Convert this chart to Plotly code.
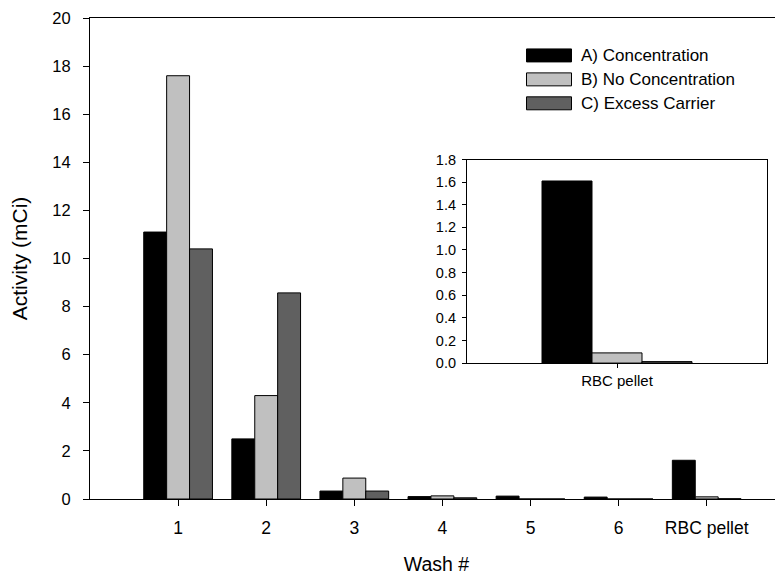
import plotly.graph_objects as go

# ---- data ----
wash_labels = ["1", "2", "3", "4", "5", "6", "RBC pellet"]
wash_pos = [1, 2, 3, 4, 5, 6, 7]
series_names = ["A) Concentration", "B) No Concentration", "C) Excess Carrier"]
conc = [11.1, 2.5, 0.33, 0.10, 0.12, 0.08, 1.61]
no_conc = [17.6, 4.3, 0.87, 0.13, 0.0, 0.0, 0.09]
excess = [10.4, 8.57, 0.33, 0.05, 0.0, 0.0, 0.01]
inset_cat = ["RBC pellet"]
inset_conc = [1.61]
inset_no_conc = [0.09]
inset_excess = [0.013]

colors = ["#000000", "#c0c0c0", "#606060"]
FONT = "Liberation Sans, Arial, sans-serif"

OFF = 8  # page body margin in the browser
W, H = 783 - OFF, 581 - OFF
L, R, T, B = 90 - OFF, 0, 17.5 - OFF, 81.5
pw, ph = W - L - R, H - T - B

fig = go.Figure()

main_w = 0.26
main_off = [-0.39, -0.13, 0.13]
for vals, c, off, nm in zip([conc, no_conc, excess], colors, main_off, series_names):
    fig.add_trace(go.Bar(x=wash_pos, y=vals, width=main_w, offset=off, name=nm,
                         marker=dict(color=c, line=dict(color="#000000", width=1)),
                         showlegend=False, xaxis="x", yaxis="y"))

in_w = 1 / 6
in_off = [-0.25, -0.25 + in_w, -0.25 + 2 * in_w]
for vals, c, off, nm in zip([inset_conc, inset_no_conc, inset_excess], colors, in_off, series_names):
    fig.add_trace(go.Bar(x=inset_cat, y=vals, width=in_w, offset=off, name=nm,
                         marker=dict(color=c, line=dict(color="#000000", width=1)),
                         showlegend=False, xaxis="x2", yaxis="y2"))

def px_x(xw):
    return (xw - OFF - L) / pw

def px_y(yw):
    return (H - B - (yw - OFF)) / ph

# inset placement (window pixels)
ix0, ix1 = px_x(467), px_x(767)
iy0, iy1 = px_y(363.3), px_y(159.3)

fig.update_layout(
    width=W, height=H,
    margin=dict(l=L, r=R, t=T, b=B, pad=0),
    paper_bgcolor="white", plot_bgcolor="white",
    barmode="overlay",
    font=dict(family=FONT, color="#000000", size=16),
    xaxis=dict(domain=[0, 1], range=[0, 7.866], tickvals=wash_pos, ticktext=wash_labels,
               showline=True, linecolor="#000000", linewidth=1.2, mirror=True,
               ticks="outside", ticklen=6, tickcolor="#000000", showgrid=False, zeroline=False,
               tickfont=dict(size=17.5), ticklabelstandoff=7,
               title=dict(text="Wash #", font=dict(size=19.5), standoff=20)),
    yaxis=dict(domain=[0, 1], range=[0, 20], tickvals=list(range(0, 21, 2)),
               showline=True, linecolor="#000000", linewidth=1.2,
               ticks="outside", ticklen=6, tickcolor="#000000", showgrid=False, zeroline=False,
               tickfont=dict(size=16.5), ticklabelstandoff=9,
               title=dict(text="Activity (mCi)", font=dict(size=21), standoff=24)),
    xaxis2=dict(domain=[ix0, ix1], anchor="y2", range=[-0.5, 0.5], type="category",
                showline=True, linecolor="#000000", linewidth=1.2, mirror=True,
                ticks="outside", ticklen=4, tickcolor="#000000", showgrid=False, zeroline=False,
                tickfont=dict(size=15)),
    yaxis2=dict(domain=[iy0, iy1], anchor="x2", range=[0, 1.8],
                tickvals=[0, 0.2, 0.4, 0.6, 0.8, 1.0, 1.2, 1.4, 1.6, 1.8], tickformat=".1f",
                showline=True, linecolor="#000000", linewidth=1.2, mirror=True,
                ticks="outside", ticklen=4, tickcolor="#000000", showgrid=False, zeroline=False,
                tickfont=dict(size=14.5), ticklabelstandoff=3),
)

# manual legend (swatches + text)
rows_y = [55, 79, 103]
shapes = []
annotations = []
for yc, c, nm in zip(rows_y, colors, series_names):
    shapes.append(dict(type="rect", xref="paper", yref="paper",
                       x0=px_x(526.5), x1=px_x(571.5), y0=px_y(yc + 6.5), y1=px_y(yc - 6.5),
                       fillcolor=c, line=dict(color="#000000", width=1)))
    annotations.append(dict(xref="paper", yref="paper", x=px_x(579), y=px_y(yc),
                            xanchor="left", yanchor="middle", text=nm, showarrow=False,
                            font=dict(size=17, family=FONT, color="#000000")))
fig.update_layout(shapes=shapes, annotations=annotations)

fig.write_html("out.html")
